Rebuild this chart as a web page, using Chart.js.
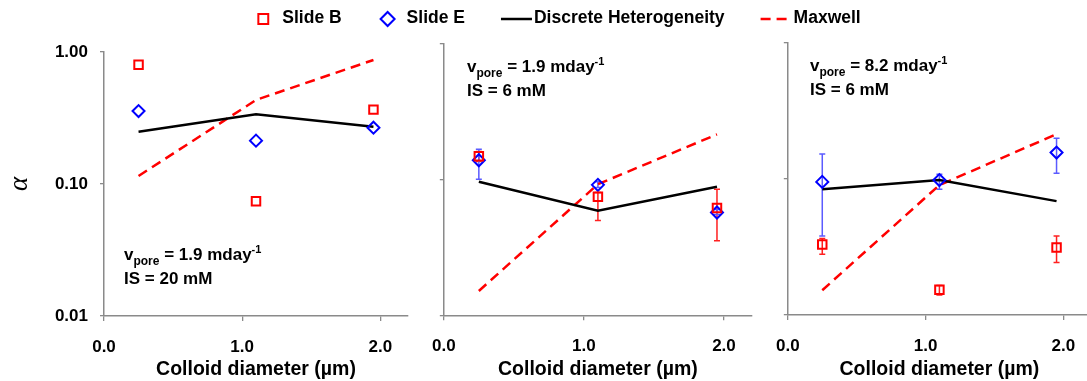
<!DOCTYPE html>
<html>
<head>
<meta charset="utf-8">
<script src="https://cdn.jsdelivr.net/npm/chart.js@4.4.1/dist/chart.umd.min.js"></script>
<style>
  html, body { margin: 0; padding: 0; background: #fff; }
  #wrap { position: relative; width: 1087px; height: 381px; overflow: hidden; }
  canvas { position: absolute; top: 0; }
</style>
</head>
<body>
<div id="wrap">
  <canvas id="p1" width="416" height="381" style="left:0px"></canvas>
  <canvas id="p2" width="344" height="381" style="left:416px"></canvas>
  <canvas id="p3" width="339" height="381" style="left:760px"></canvas>
  <canvas id="leg" width="1087" height="40" style="left:0px"></canvas>
</div>
<script>
const diameters = [0.25, 1.1, 1.95];
const xTicks = [0, 1, 2];
const yTicks = [0.01, 0.1, 1];

// vpore 1.9, IS 20 mM
const p1SlideB = [0.80, 0.074, 0.366];
const p1SlideE = [0.357, 0.213, 0.267];
const p1Discrete = [0.249, 0.337, 0.272];
const p1Maxwell = [0.115, 0.433, 0.87];

// vpore 1.9, IS 6 mM
const p2SlideB = [0.148, 0.0745, 0.0615];
const p2SlideBLow = [0.135, 0.0497, 0.0354];
const p2SlideBHigh = [0.16, 0.08, 0.0844];
const p2SlideE = [0.138, 0.091, 0.057];
const p2SlideELow = [0.10, 0.087, 0.055];
const p2SlideEHigh = [0.166, 0.096, 0.06];
const p2Discrete = [0.096, 0.0588, 0.088];
const p2Maxwell = [0.0151, 0.092, 0.214];

// vpore 8.2, IS 6 mM
const p3SlideB = [0.033, 0.0153, 0.0313];
const p3SlideBLow = [0.0279, 0.014, 0.0243];
const p3SlideBHigh = [0.0364, 0.0165, 0.0381];
const p3SlideE = [0.095, 0.098, 0.156];
const p3SlideELow = [0.038, 0.084, 0.110];
const p3SlideEHigh = [0.152, 0.108, 0.199];
const p3Discrete = [0.084, 0.098, 0.0686];
const p3Maxwell = [0.0152, 0.090, 0.213];

const FONT = '"Liberation Sans", Arial, sans-serif';
Chart.defaults.font.family = FONT;
Chart.defaults.color = '#000';

const styleB = { label: 'Slide B', pointStyle: 'rect', pointRadius: 6, pointBorderWidth: 2, borderColor: '#ff0000', backgroundColor: 'rgba(0,0,0,0)', showLine: false };
const styleE = { label: 'Slide E', pointStyle: 'rectRot', pointRadius: 6, pointBorderWidth: 2, borderColor: '#0000ff', backgroundColor: 'rgba(0,0,0,0)', showLine: false };
const styleDH = { label: 'Discrete Heterogeneity', showLine: true, borderColor: '#000', borderWidth: 2.5, pointRadius: 0 };
const styleMx = { label: 'Maxwell', showLine: true, borderColor: '#ff0000', borderWidth: 2.5, borderDash: [10, 6], pointRadius: 0 };

const toPoints = vals => vals.map((v, i) => ({ x: diameters[i], y: v }));

const errorBarPlugin = {
  id: 'errorBars',
  beforeDatasetsDraw(chart, args, opts) {
    const { ctx, scales: { x, y } } = chart;
    ctx.save();
    (opts.bars || []).forEach(bar => {
      ctx.strokeStyle = bar.color;
      ctx.lineWidth = 1.5;
      diameters.forEach((d, i) => {
        const px = x.getPixelForValue(d);
        const top = y.getPixelForValue(bar.high[i]);
        const bot = y.getPixelForValue(bar.low[i]);
        ctx.beginPath();
        ctx.moveTo(px, top); ctx.lineTo(px, bot);
        ctx.moveTo(px - 3, top); ctx.lineTo(px + 3, top);
        ctx.moveTo(px - 3, bot); ctx.lineTo(px + 3, bot);
        ctx.stroke();
      });
    });
    ctx.restore();
  }
};

const notePlugin = {
  id: 'note',
  afterDraw(chart, args, opts) {
    const ctx = chart.ctx;
    ctx.save();
    ctx.fillStyle = '#000';
    ctx.textBaseline = 'alphabetic';
    let x = opts.x;
    const y = opts.y;
    ctx.font = 'bold 17px ' + FONT;
    ctx.fillText('v', x, y);
    x += ctx.measureText('v').width;
    ctx.font = 'bold 12px ' + FONT;
    ctx.fillText('pore', x, y + 5);
    x += ctx.measureText('pore').width;
    ctx.font = 'bold 17px ' + FONT;
    const mid = ' = ' + opts.v + ' mday';
    ctx.fillText(mid, x, y);
    x += ctx.measureText(mid).width;
    ctx.font = 'bold 11px ' + FONT;
    ctx.fillText('-1', x, y - 7);
    ctx.font = 'bold 17px ' + FONT;
    ctx.fillText('IS = ' + opts.is + ' mM', opts.x, y + 24);
    ctx.restore();
  }
};

const legendPlugin = {
  id: 'legendRow',
  afterDraw(chart, args, opts) {
    const ctx = chart.ctx;
    const sets = chart.data.datasets;
    ctx.save();
    ctx.font = opts.font;
    ctx.textBaseline = 'middle';
    const widths = sets.map(ds => (ds.showLine ? 33 : 29) + ctx.measureText(ds.label).width);
    const total = widths.reduce((a, b) => a + b, 0) + opts.gap * (sets.length - 1);
    let x = opts.center - total / 2;
    const y = opts.y;
    sets.forEach((ds, i) => {
      if (ds.showLine) {
        ctx.strokeStyle = ds.borderColor;
        ctx.lineWidth = ds.borderWidth;
        ctx.setLineDash(ds.borderDash || []);
        ctx.beginPath();
        ctx.moveTo(x, y + 1); ctx.lineTo(x + 31, y + 1);
        ctx.stroke();
        ctx.setLineDash([]);
        ctx.fillStyle = '#000';
        ctx.fillText(ds.label, x + 33, y);
      } else {
        ctx.strokeStyle = ds.borderColor;
        ctx.lineWidth = ds.pointBorderWidth;
        ctx.fillStyle = 'rgba(0,0,0,0)';
        Chart.helpers.drawPoint(ctx, { pointStyle: ds.pointStyle, radius: 7, borderWidth: ds.pointBorderWidth, rotation: 0 }, x + 10, y + 1);
        ctx.fillStyle = '#000';
        ctx.fillText(ds.label, x + 29, y);
      }
      x += widths[i] + opts.gap;
    });
    ctx.restore();
  }
};

function makePanel(id, p) {
  new Chart(document.getElementById(id), {
    type: 'scatter',
    data: {
      datasets: [
        { ...styleB, data: toPoints(p.slideB) },
        { ...styleE, data: toPoints(p.slideE) },
        { ...styleDH, data: toPoints(p.discrete) },
        { ...styleMx, data: toPoints(p.maxwell) }
      ]
    },
    options: {
      responsive: false,
      animation: false,
      layout: { padding: { top: p.top, right: p.right, left: 0, bottom: 0 } },
      plugins: {
        legend: { display: false },
        tooltip: { enabled: false },
        errorBars: { bars: p.bars },
        note: p.note
      },
      scales: {
        x: {
          type: 'linear',
          min: 0,
          max: 2.2,
          afterBuildTicks: s => { s.ticks = xTicks.map(v => ({ value: v })); },
          afterFit: s => { s.height = p.xHeight; },
          grid: { drawOnChartArea: false, drawTicks: true, tickLength: 5, color: '#8a8a8a', lineWidth: 1.3 },
          border: { color: '#8a8a8a', width: 1.5 },
          ticks: {
            padding: 16,
            maxRotation: 0,
            autoSkip: false,
            font: { size: 17, weight: 'bold' },
            callback: v => Number(v).toFixed(1)
          },
          title: {
            display: true,
            text: 'Colloid diameter (µm)',
            font: { size: 19.5, weight: 'bold' },
            padding: { top: 0, bottom: 0 }
          }
        },
        y: {
          type: 'logarithmic',
          min: 0.01,
          max: 1,
          afterBuildTicks: s => { s.ticks = yTicks.map(v => ({ value: v })); },
          afterFit: s => { s.width = p.yWidth; },
          grid: { drawOnChartArea: false, drawTicks: true, tickLength: 4, color: '#8a8a8a', lineWidth: 1.3 },
          border: { color: '#8a8a8a', width: 1.5 },
          ticks: {
            display: p.yLabels,
            padding: 12,
            font: { size: 17, weight: 'bold' },
            callback: v => Number(v).toFixed(2)
          },
          title: {
            display: p.yLabels,
            text: 'α',
            font: { family: '"Liberation Serif", serif', style: 'italic', size: 27 },
            padding: { top: 4, bottom: 0 }
          }
        }
      }
    },
    plugins: [errorBarPlugin, notePlugin]
  });
}

makePanel('p1', {
  slideB: p1SlideB, slideE: p1SlideE, discrete: p1Discrete, maxwell: p1Maxwell,
  bars: [],
  top: 52, right: 7, xHeight: 65, yWidth: 104, yLabels: true,
  note: { x: 124, y: 260, v: '1.9', is: '20' }
});

makePanel('p2', {
  slideB: p2SlideB, slideE: p2SlideE, discrete: p2Discrete, maxwell: p2Maxwell,
  bars: [
    { low: p2SlideBLow, high: p2SlideBHigh, color: '#ff2020' },
    { low: p2SlideELow, high: p2SlideEHigh, color: '#5b5bff' }
  ],
  top: 43.3, right: 5, xHeight: 65.7, yWidth: 27.3, yLabels: false,
  note: { x: 51, y: 72, v: '1.9', is: '6' }
});

makePanel('p3', {
  slideB: p3SlideB, slideE: p3SlideE, discrete: p3Discrete, maxwell: p3Maxwell,
  bars: [
    { low: p3SlideBLow, high: p3SlideBHigh, color: '#ff2020' },
    { low: p3SlideELow, high: p3SlideEHigh, color: '#5b5bff' }
  ],
  top: 42.7, right: 4.6, xHeight: 66, yWidth: 18.3, yLabels: false,
  note: { x: 50, y: 71, v: '8.2', is: '6' }
});

new Chart(document.getElementById('leg'), {
  type: 'scatter',
  data: {
    datasets: [
      { ...styleB, data: [] },
      { ...styleE, data: [] },
      { ...styleDH, data: [] },
      { ...styleMx, data: [] }
    ]
  },
  options: {
    responsive: false,
    animation: false,
    scales: { x: { display: false }, y: { display: false } },
    plugins: {
      legend: { display: false },
      tooltip: { enabled: false },
      legendRow: { center: 557, y: 18, gap: 36, font: 'bold 17.5px ' + FONT }
    }
  },
  plugins: [legendPlugin]
});
</script>
</body>
</html>
